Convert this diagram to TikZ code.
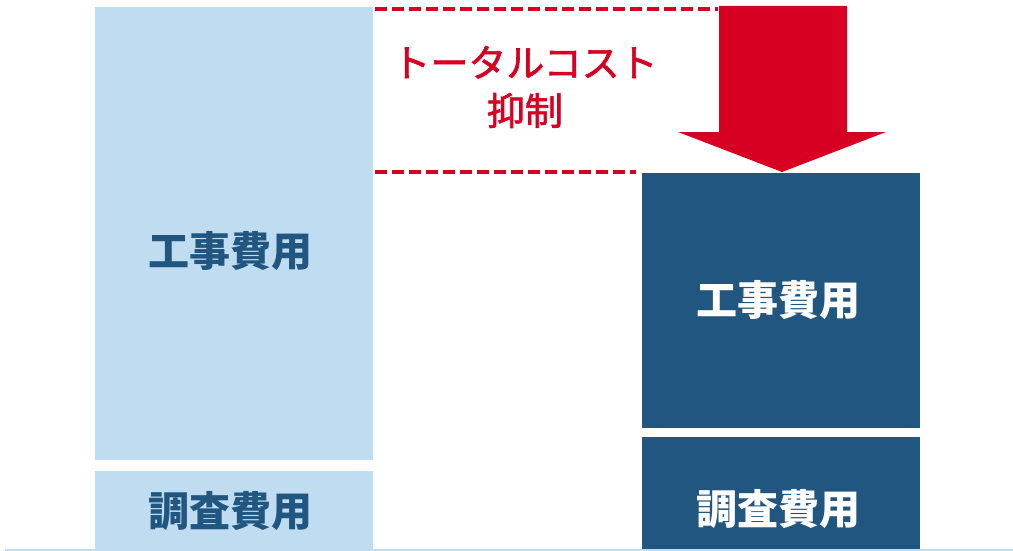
\documentclass[tikz,border=0pt]{standalone}
\usepackage{fontspec}
\newfontfamily\jpfont{Noto Sans CJK JP}
\newfontfamily\jpthick{Noto Sans CJK JP}[FakeBold=1.6]
\usetikzlibrary{positioning}
\definecolor{lightcost}{HTML}{BFDCF0}
\definecolor{darkcost}{HTML}{20567F}
\definecolor{cutred}{HTML}{D80022}
\tikzstyle{light_box} = [
    rectangle,
    draw=none,
    fill=lightcost,
    inner sep=0pt,
    minimum width=278pt
]
\tikzstyle{dark_box} = [
    rectangle,
    draw=none,
    fill=darkcost,
    inner sep=0pt,
    minimum width=278pt
]
\tikzstyle{cost_label} = [
    font=\jpfont\bfseries\fontsize{41}{41}\selectfont,
    inner sep=0pt
]
\tikzstyle{cut_line} = [
    draw=cutred,
    line width=3.5pt,
    dash pattern=on 12pt off 5pt
]
\begin{document}
\begin{tikzpicture}[x=1pt, y=-1pt]
\useasboundingbox (0,0) rectangle (1013,551);
% before
\node [light_box, minimum height=453pt, anchor=north west] (before_work) at (95,7) {};
\node [light_box, minimum height=78pt, anchor=north west] (before_survey) at (95,471) {};
% after
\node [dark_box, minimum height=255pt, anchor=north west] (after_work) at (642,173) {};
\node [dark_box, minimum height=112pt, anchor=north west] (after_survey) at (642,437) {};
% labels
\node [cost_label, text=darkcost] (before_work_text) at (230,251) {工事費用};
\node [cost_label, text=darkcost] (before_survey_text) at (230,511) {調査費用};
\node [cost_label, text=white] (after_work_text) at (778,300) {工事費用};
\node [cost_label, text=white] (after_survey_text) at (778,509) {調査費用};
% arrow
\coordinate (shaft_l) at (719,6);
\coordinate (shaft_r) at (847,6);
\coordinate (tip) at (782,172);
\fill [cutred] (shaft_l) -- (shaft_r) -- (847,132) -- (886,132) -- (tip)
    -- (678,132) -- (719,132) -- cycle;
% dashed
\coordinate (top_start) at (375,9);
\coordinate (top_end) at (718,9);
\coordinate (bot_start) at (375,172);
\coordinate (bot_end) at (636,172);
\draw [cut_line] (top_start) -- (top_end);
\draw [cut_line] (bot_start) -- (bot_end);
\node [font=\jpthick\fontsize{38}{48}\selectfont, text=cutred, align=center,
    inner sep=0pt] (cut_text) at (525,87) {トータルコスト\\抑制};
% base line
\coordinate (base_l) at (5,549.5);
\coordinate (base_r) at (1013,549.5);
\draw [lightcost, line width=2pt] (base_l) -- (base_r);
\end{tikzpicture}
\end{document}
